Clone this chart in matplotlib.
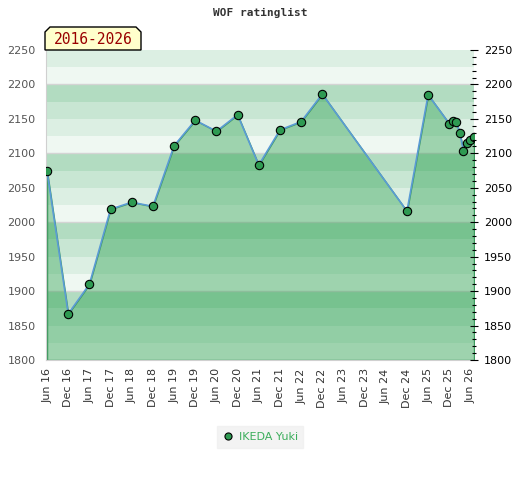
import numpy as np
import matplotlib.pyplot as plt
from matplotlib.patches import Polygon
from matplotlib.ticker import MultipleLocator

# datos
fechas = ["2016-06", "2016-12", "2017-06", "2017-12", "2018-06", "2018-12",
          "2019-06", "2019-12", "2020-06", "2020-12", "2021-06", "2021-12",
          "2022-06", "2022-12", "2024-12", "2025-06", "2025-12", "2026-01",
          "2026-02", "2026-03", "2026-04", "2026-05", "2026-06", "2026-07"]
rating = [2074, 1867, 1910, 2019, 2029, 2023, 2111, 2148, 2132, 2156, 2083, 2134,
          2146, 2186, 2016, 2185, 2143, 2147, 2145, 2129, 2104, 2115, 2119, 2123]
jugador = "IKEDA Yuki"
titulo = "WOF ratinglist"
periodo = "2016-2026"
ticks_meses = list(range(0, 121, 6))
ticks_nombres = [("Jun " if i % 2 == 0 else "Dec ") + str(16 + i // 2) for i in range(len(ticks_meses))]

# meses desde jun 2016
x = np.array([(int(f[:4]) - 2016) * 12 + int(f[5:]) - 6 for f in fechas])
y = np.array(rating)

fig = plt.figure(figsize=(5.2, 4.8), dpi=100)
ax = fig.add_axes([46/520, 1-360/480, 428/520, 310/480])
ax.set_xlim(-0.3, 121)
ax.set_ylim(1800, 2250)

# bandas de fondo
colores_banda = ["#b2dcc1", "#c8e6d3", "#dcefe3", "#eff8f2"]
for lo in range(1800, 2250, 25):
    k = ((2200 - (lo + 25)) % 100) // 25
    ax.axhspan(lo, lo + 25, color=colores_banda[k], lw=0, zorder=0)
for g in range(1900, 2250, 100):
    ax.axhline(g, color="#d4d4d4", lw=1, zorder=0.5)

ax.fill_between(x, y, 1800, facecolor=(0.08, 0.59, 0.23, 0.37),
                edgecolor="#3d9a5e", lw=1, zorder=1)
ax.plot(x, y, color="#5b9bd5", lw=1.2, zorder=2)
ax.plot(x, y, 'o', ms=6, mfc="#2e9a52", mec="black", mew=0.8, zorder=3,
        label=jugador, ls='none')

for s in ["top", "right"]:
    ax.spines[s].set_visible(False)
ax.spines["left"].set_color("#d0d0d0")
ax.spines["bottom"].set_color("#d0d0d0")

ax.yaxis.set_major_locator(MultipleLocator(50))
ax.tick_params(axis="y", which="both", left=False, right=False, labelsize=8,
               labelcolor="#555555", pad=4)

ax2 = ax.secondary_yaxis("right")
ax2.set_zorder(5)
ax2.yaxis.set_major_locator(MultipleLocator(50))
ax2.yaxis.set_minor_locator(MultipleLocator(10))
ax2.spines["right"].set_visible(False)
ax2.tick_params(axis="y", which="major", direction="inout", length=6, width=0.8,
                color="black", labelsize=8, labelcolor="black", pad=4)
ax2.tick_params(axis="y", which="minor", direction="inout", length=3.5, width=0.8,
                color="black")

ax.set_xticks(ticks_meses)
ax.set_xticklabels(ticks_nombres, rotation=90, fontsize=8, color="#333333")
ax.tick_params(axis="x", length=0, pad=6)

fig.text(0.5, 1-13/480, titulo, ha="center", va="center", fontsize=8,
         family="DejaVu Sans Mono", fontweight="bold", color="#333333")

# caja del periodo
W, H = 520.0, 480.0
caja = [(45, 50), (45, 32), (50, 27), (136, 27), (141, 32), (141, 50)]
fig.patches.append(Polygon([(a/W, 1-b/H) for a, b in caja], closed=True,
                           transform=fig.transFigure, facecolor="#ffffcc",
                           edgecolor="black", lw=1, zorder=5))
fig.text(93/W, 1-40/H, periodo, ha="center", va="center", fontsize=10.5,
         family="DejaVu Sans Mono", color="#990000", zorder=6)

leg = fig.legend(loc="center", bbox_to_anchor=(0.5, 1-437/480), frameon=True,
                 fontsize=8, handletextpad=0.5, borderpad=0.5, handlelength=1,
                 markerscale=0.85)
leg.get_frame().set_facecolor("#f0f0f0")
leg.get_frame().set_edgecolor("#f0f0f0")
leg.get_frame().set_boxstyle("square", pad=0)
for t in leg.get_texts():
    t.set_color("#3cae5c")

plt.savefig("out.png")
plt.close()
